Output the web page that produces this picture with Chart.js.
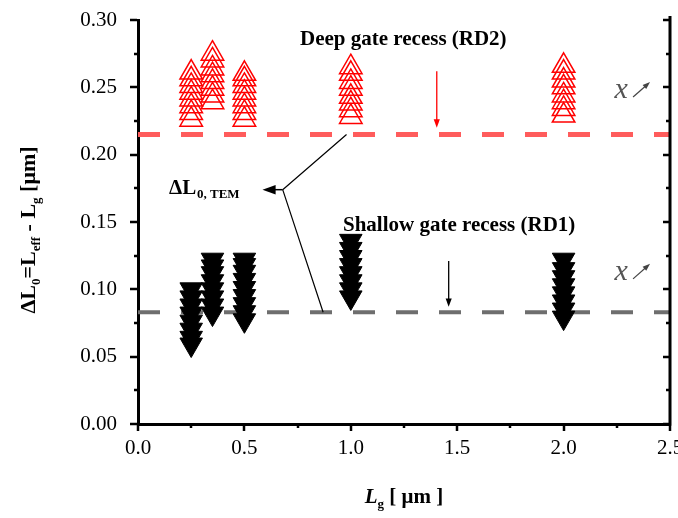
<!DOCTYPE html>
<html>
<head>
<meta charset="utf-8">
<script src="https://cdn.jsdelivr.net/npm/chart.js@4.4.0/dist/chart.umd.min.js"></script>
<style>
  html, body { margin: 0; padding: 0; background: #fff; }
  #wrap { width: 678px; height: 518px; }
</style>
</head>
<body>
<div id="wrap"><canvas id="chart" width="678" height="518"></canvas></div>
<script>
// gate lengths (um) where the devices were measured
const lgValues = [0.25, 0.35, 0.5, 1.0, 2.0];

// deep gate recess (RD2), one list per gate length
const deepRecess = [
  [0.226, 0.231, 0.236, 0.241, 0.246, 0.251, 0.256, 0.261],
  [0.239, 0.244, 0.249, 0.254, 0.259, 0.264, 0.270, 0.275],
  [0.226, 0.231, 0.236, 0.241, 0.246, 0.251, 0.256, 0.260],
  [0.228, 0.233, 0.238, 0.243, 0.249, 0.254, 0.260, 0.265],
  [0.229, 0.234, 0.239, 0.244, 0.250, 0.255, 0.261, 0.266]
];

// shallow gate recess (RD1)
const shallowRecess = [
  [0.059, 0.064, 0.070, 0.076, 0.082, 0.088, 0.094, 0.100],
  [0.082, 0.088, 0.094, 0.100, 0.106, 0.112, 0.117, 0.122],
  [0.077, 0.083, 0.089, 0.095, 0.101, 0.107, 0.113, 0.118, 0.122],
  [0.094, 0.100, 0.106, 0.112, 0.118, 0.124, 0.130, 0.136],
  [0.079, 0.085, 0.091, 0.097, 0.103, 0.109, 0.115, 0.122]
];

// TEM reference levels
const temDeep = 0.215;
const temShallow = 0.083;

const xRange = [0, 2.5];
const yRange = [0, 0.30];
const xMajor = [0, 0.5, 1.0, 1.5, 2.0, 2.5];
const yMajor = [0, 0.05, 0.10, 0.15, 0.20, 0.25, 0.30];

const SERIF = "'Liberation Serif', 'Times New Roman', serif";

function toPoints(xs, lists) {
  const pts = [];
  xs.forEach((x, i) => lists[i].forEach(y => pts.push({ x: x, y: y })));
  return pts;
}

function arrow(ctx, x1, y1, x2, y2, color, lw, head) {
  const a = Math.atan2(y2 - y1, x2 - x1);
  ctx.save();
  ctx.strokeStyle = color;
  ctx.fillStyle = color;
  ctx.lineWidth = lw;
  ctx.beginPath();
  ctx.moveTo(x1, y1);
  ctx.lineTo(x2 - Math.cos(a) * head * 0.6, y2 - Math.sin(a) * head * 0.6);
  ctx.stroke();
  ctx.beginPath();
  ctx.moveTo(x2, y2);
  ctx.lineTo(x2 - Math.cos(a - 0.35) * head, y2 - Math.sin(a - 0.35) * head);
  ctx.lineTo(x2 - Math.cos(a + 0.35) * head, y2 - Math.sin(a + 0.35) * head);
  ctx.closePath();
  ctx.fill();
  ctx.restore();
}

// draws a run of text pieces with subscripts, centred on (cx, cy)
function richText(ctx, parts, cx, cy) {
  let total = 0;
  parts.forEach(p => {
    ctx.font = p.font;
    p.w = ctx.measureText(p.t).width;
    total += p.w;
  });
  let x = cx - total / 2;
  ctx.textBaseline = 'alphabetic';
  ctx.textAlign = 'left';
  parts.forEach(p => {
    ctx.font = p.font;
    ctx.fillText(p.t, x, cy + 7 + (p.sub ? 5 : 0));
    x += p.w;
  });
}

const decorPlugin = {
  id: 'decor',
  afterDraw(chart) {
    const ctx = chart.ctx;
    const xs = chart.scales.x;
    const ys = chart.scales.y;
    const area = chart.chartArea;
    const px = v => xs.getPixelForValue(v);
    const py = v => ys.getPixelForValue(v);

    ctx.save();
    ctx.strokeStyle = '#000';
    // right frame line
    ctx.lineWidth = 3;
    ctx.beginPath();
    ctx.moveTo(area.right, area.top - 4);
    ctx.lineTo(area.right, area.bottom + 1.5);
    ctx.stroke();

    // ticks, major and minor
    ctx.lineWidth = 2.5;
    for (let i = 0; i <= 12; i++) {
      const v = i * 0.025;
      const major = i % 2 === 0;
      const y = Math.round(py(v));
      ctx.beginPath();
      ctx.moveTo(area.left - 1, y);
      ctx.lineTo(area.left - (major ? 8 : 4), y);
      ctx.moveTo(area.right, y);
      ctx.lineTo(area.right - (major ? 7 : 4), y);
      ctx.stroke();
    }
    for (let i = 0; i <= 10; i++) {
      const v = i * 0.25;
      const major = i % 2 === 0;
      const x = Math.round(px(v));
      ctx.beginPath();
      ctx.moveTo(x, area.bottom + 1);
      ctx.lineTo(x, area.bottom + (major ? 7 : 4));
      ctx.stroke();
    }

    ctx.fillStyle = '#000';
    // labels of the two recess types
    ctx.font = 'bold 21px ' + SERIF;
    ctx.textAlign = 'left';
    ctx.textBaseline = 'middle';
    ctx.fillText('Deep gate recess (RD2)', 300, 40);
    ctx.fillText('Shallow gate recess (RD1)', 343, 226);

    // red and black down arrows
    arrow(ctx, px(1.404), py(0.262), px(1.404), py(0.220), '#ff0000', 1.3, 9);
    arrow(ctx, px(1.46), py(0.121), px(1.46), py(0.087), '#000', 1.3, 9);

    // ΔL0,TEM label with leader lines
    ctx.font = 'bold 21px ' + SERIF;
    ctx.textBaseline = 'alphabetic';
    ctx.fillText('ΔL', 169, 194);
    ctx.font = 'bold 13px ' + SERIF;
    ctx.fillText('0, TEM', 197, 198);
    const jx = px(0.68), jy = py(0.174);
    ctx.lineWidth = 1.2;
    ctx.beginPath();
    ctx.moveTo(px(0.98), py(temDeep));
    ctx.lineTo(jx, jy);
    ctx.moveTo(px(0.87), py(temShallow));
    ctx.lineTo(jx, jy);
    ctx.stroke();
    arrow(ctx, jx, jy, px(0.585), jy, '#000', 1.5, 14);

    // x annotations
    ctx.fillStyle = '#555';
    ctx.font = 'italic 30px ' + SERIF;
    ctx.textAlign = 'center';
    ctx.textBaseline = 'middle';
    [0.248, 0.113].forEach(v => {
      const cx = px(2.27), cy = py(v);
      ctx.fillText('x', cx, cy);
      arrow(ctx, cx + 12, cy + 7, cx + 29, cy - 8, '#444', 1.2, 8);
    });

    // axis titles
    ctx.fillStyle = '#000';
    const big = 'bold 22px ' + SERIF;
    const small = 'bold 13px ' + SERIF;
    ctx.save();
    ctx.translate(28, 230);
    ctx.rotate(-Math.PI / 2);
    richText(ctx, [
      { t: 'ΔL', font: big }, { t: '0', font: small, sub: true },
      { t: '=L', font: big }, { t: 'eff', font: small, sub: true },
      { t: ' - L', font: big }, { t: 'g', font: small, sub: true },
      { t: ' [μm]', font: big }
    ], 0, 0);
    ctx.restore();
    richText(ctx, [
      { t: 'L', font: 'italic bold 21px ' + SERIF }, { t: 'g', font: small, sub: true },
      { t: ' [ μm ]', font: 'bold 21px ' + SERIF }
    ], 404, 496);
    ctx.restore();
  }
};

const ctx = document.getElementById('chart').getContext('2d');
new Chart(ctx, {
  type: 'scatter',
  data: {
    datasets: [
      {
        label: 'RD2',
        data: toPoints(lgValues, deepRecess),
        pointStyle: 'triangle',
        pointRadius: 13,
        borderColor: '#ff0000',
        borderWidth: 1.5,
        backgroundColor: 'rgba(0,0,0,0)',
        order: 0
      },
      {
        label: 'RD1',
        data: toPoints(lgValues, shallowRecess),
        pointStyle: 'triangle',
        rotation: 180,
        pointRadius: 13,
        borderColor: '#000',
        borderWidth: 1,
        backgroundColor: '#000',
        order: 0
      },
      {
        type: 'line',
        label: 'TEM RD2',
        data: [{ x: xRange[0], y: temDeep }, { x: xRange[1], y: temDeep }],
        borderColor: '#ff5c5c',
        borderWidth: 5,
        borderDash: [22, 21],
        pointRadius: 0,
        order: 1
      },
      {
        type: 'line',
        label: 'TEM RD1',
        data: [{ x: xRange[0], y: temShallow }, { x: xRange[1], y: temShallow }],
        borderColor: '#6e6e6e',
        borderWidth: 4,
        borderDash: [22, 21],
        pointRadius: 0,
        order: 1
      }
    ]
  },
  options: {
    responsive: false,
    animation: false,
    devicePixelRatio: 1,
    layout: { autoPadding: false, padding: { top: 20, right: 8, left: 0, bottom: 0 } },
    plugins: { legend: { display: false }, tooltip: { enabled: false } },
    scales: {
      x: {
        type: 'linear',
        min: xRange[0],
        max: xRange[1],
        afterBuildTicks: s => { s.ticks = xMajor.map(v => ({ value: v })); },
        afterFit: s => { s.height = 94; s.paddingLeft = 0; s.paddingRight = 0; },
        ticks: {
          callback: v => v.toFixed(1),
          font: { family: SERIF, size: 21 },
          color: '#000',
          padding: 4,
          maxRotation: 0
        },
        grid: { display: false },
        border: { display: true, color: '#000', width: 3 }
      },
      y: {
        min: yRange[0],
        max: yRange[1],
        afterBuildTicks: s => { s.ticks = yMajor.map(v => ({ value: v })); },
        afterFit: s => { s.width = 138; s.paddingTop = 0; s.paddingBottom = 0; },
        ticks: {
          callback: v => v.toFixed(2),
          font: { family: SERIF, size: 21 },
          color: '#000',
          padding: 13
        },
        grid: { display: false },
        border: { display: true, color: '#000', width: 3 }
      }
    }
  },
  plugins: [decorPlugin]
});
</script>
</body>
</html>
